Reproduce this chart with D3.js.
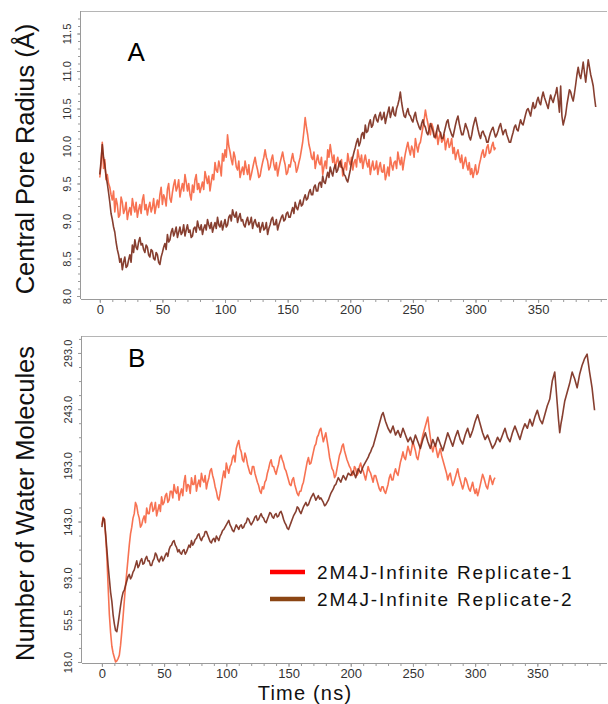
<!DOCTYPE html>
<html>
<head>
<meta charset="utf-8">
<script src="https://cdn.jsdelivr.net/npm/d3@7"></script>
<style>
  body { margin: 0; background: #fff; }
  svg { display: block; }
</style>
</head>
<body>
<svg id="chart" width="608" height="704"></svg>
<script>
// Sampling interval of the trajectories (ns)
const timeStepNs = 1;

// Panel A: central pore radius (Å), one value per ns
const radiusRep1 = [
  9.58,9.75,10.05,9.70,9.82,9.55,9.62,9.50,9.45,9.35,9.28,9.40,9.12,9.30,9.22,9.05,9.08,9.32,9.25,9.10,
  9.15,9.25,9.02,9.12,9.18,9.08,9.30,9.20,9.12,9.25,9.05,9.15,9.22,9.10,9.28,9.35,9.15,9.22,9.08,9.18,
  9.25,9.12,9.18,9.30,9.10,9.20,9.28,9.18,9.35,9.45,9.22,9.35,9.30,9.20,9.42,9.50,9.30,9.25,9.38,9.48,
  9.55,9.40,9.45,9.55,9.32,9.42,9.50,9.40,9.62,9.52,9.40,9.50,9.35,9.28,9.48,9.38,9.55,9.62,9.42,9.50,
  9.38,9.45,9.52,9.42,9.66,9.58,9.50,9.60,9.40,9.52,9.62,9.55,9.78,9.68,9.65,9.80,9.72,9.60,9.90,9.80,
  9.95,9.85,10.15,10.00,9.92,9.82,9.75,9.92,9.85,9.72,9.68,9.80,9.58,9.66,9.72,9.62,9.80,9.70,9.62,9.75,
  9.55,9.62,9.70,9.78,9.85,9.75,9.68,9.58,9.60,9.70,9.78,9.85,9.95,9.85,9.80,9.68,9.72,9.82,9.88,9.75,
  9.68,9.78,9.60,9.70,9.78,9.85,9.92,9.82,9.75,9.62,9.65,9.75,9.72,9.82,9.90,9.80,9.78,9.65,9.70,9.78,
  9.85,9.95,10.05,10.20,10.38,10.25,10.15,10.02,9.95,9.85,9.82,9.92,9.70,9.80,9.88,9.78,9.75,9.85,9.62,9.72,
  9.80,9.70,9.95,9.85,10.02,9.90,9.78,9.88,9.70,9.78,9.85,9.75,9.72,9.82,9.60,9.70,9.78,9.68,9.90,9.80,
  9.75,9.85,9.68,9.78,9.82,9.72,9.95,9.85,9.78,9.88,9.70,9.80,9.88,9.78,9.72,9.82,9.62,9.72,9.80,9.68,
  9.70,9.80,9.62,9.72,9.78,9.66,9.65,9.75,9.55,9.62,9.72,9.60,9.85,9.75,9.68,9.78,9.80,9.70,9.92,9.82,
  9.75,9.85,9.68,9.80,9.90,9.98,10.05,9.95,9.88,10.00,9.95,9.85,10.10,10.00,9.92,10.02,10.05,10.15,10.25,10.35,
  10.48,10.38,10.30,10.20,10.15,10.30,10.25,10.15,10.10,10.20,10.02,10.12,10.18,10.05,10.08,10.15,9.95,10.05,10.10,9.98,
  10.02,10.10,9.90,9.98,9.82,9.90,9.95,9.85,9.78,9.88,9.70,9.78,9.85,9.75,9.68,9.78,9.62,9.70,9.58,9.66,
  9.75,9.62,9.65,9.75,9.82,9.90,9.95,9.85,9.88,9.98,10.02,9.90,9.92,10.00,10.05,9.95,9.98
];
const radiusRep2 = [
  9.62,9.80,10.02,9.85,9.75,9.60,9.50,9.38,9.25,9.10,9.02,8.92,8.85,8.72,8.62,8.55,8.45,8.50,8.35,8.45,
  8.52,8.38,8.40,8.48,8.55,8.45,8.68,8.58,8.75,8.65,8.62,8.72,8.78,8.68,8.70,8.62,8.58,8.68,8.65,8.55,
  8.52,8.62,8.60,8.50,8.48,8.58,8.55,8.45,8.42,8.52,8.58,8.65,8.70,8.62,8.82,8.72,8.75,8.85,8.90,8.80,
  8.85,8.92,8.78,8.85,8.92,8.82,8.85,8.95,8.80,8.88,8.95,8.85,8.88,8.78,8.80,8.90,8.92,8.85,9.00,8.92,
  8.88,8.95,8.82,8.90,8.95,8.88,9.02,8.95,8.90,8.98,8.85,8.92,8.98,8.90,9.05,8.95,8.92,9.00,8.88,8.95,
  9.02,8.92,8.95,9.05,9.08,9.00,9.15,9.08,9.05,9.12,8.98,9.05,9.10,9.00,9.02,8.95,8.92,9.00,9.05,8.95,
  8.98,9.05,8.90,8.98,9.02,8.95,8.92,8.98,8.85,8.92,8.98,8.88,8.90,8.98,8.82,8.90,8.95,9.02,9.05,8.95,
  8.95,9.02,8.88,8.95,9.00,9.05,9.08,9.00,9.02,9.10,9.12,9.05,9.05,9.12,9.18,9.10,9.25,9.18,9.15,9.22,
  9.28,9.20,9.22,9.30,9.35,9.28,9.30,9.38,9.42,9.35,9.35,9.45,9.48,9.40,9.40,9.50,9.52,9.45,9.60,9.52,
  9.50,9.58,9.65,9.58,9.72,9.65,9.60,9.70,9.75,9.65,9.68,9.76,9.80,9.72,9.70,9.62,9.60,9.55,9.52,9.60,
  9.68,9.78,9.85,9.92,9.98,10.05,10.10,10.00,10.05,10.15,10.18,10.10,10.28,10.18,10.20,10.30,10.35,10.25,10.28,10.38,
  10.42,10.35,10.32,10.40,10.45,10.35,10.38,10.45,10.30,10.38,10.45,10.52,10.38,10.45,10.52,10.42,10.40,10.50,10.55,10.62,
  10.72,10.58,10.48,10.40,10.38,10.45,10.50,10.42,10.40,10.35,10.32,10.40,10.45,10.35,10.30,10.25,10.22,10.30,10.35,10.28,
  10.25,10.18,10.15,10.22,10.30,10.25,10.20,10.12,10.12,10.20,10.28,10.20,10.18,10.10,10.10,10.18,10.25,10.32,10.35,10.25,
  10.20,10.15,10.12,10.20,10.28,10.35,10.40,10.30,10.22,10.15,10.15,10.22,10.30,10.25,10.20,10.12,10.08,10.15,10.25,10.32,
  10.38,10.30,10.22,10.15,10.10,10.18,10.20,10.15,10.12,10.05,10.05,10.12,10.18,10.22,10.25,10.18,10.12,10.15,10.20,10.26,
  10.30,10.22,10.15,10.20,10.22,10.15,10.10,10.05,10.05,10.12,10.18,10.25,10.28,10.22,10.20,10.28,10.35,10.30,10.28,10.35,
  10.42,10.48,10.50,10.45,10.40,10.50,10.58,10.50,10.52,10.60,10.65,10.58,10.55,10.65,10.72,10.65,10.60,10.55,10.50,10.60,
  10.68,10.62,10.58,10.65,10.70,10.78,10.62,10.45,10.80,10.40,10.28,10.35,10.42,10.55,10.65,10.75,10.72,10.65,10.60,10.70,
  10.82,10.95,11.05,10.95,10.90,11.00,11.12,10.98,10.85,11.00,11.15,11.05,10.95,10.88,10.80,10.65,10.52
];

// Panel B: number of water molecules in the pore, one value per ns
const waterRep1 = [
  140,147,145,130,112,85,60,44,32,26,22,18,19,21,24,33,45,58,72,86,
  98,110,122,132,138,146,150,160,157,150,146,138,140,145,148,142,155,150,150,158,
  160,152,154,160,148,153,158,152,165,158,160,166,168,160,162,170,170,164,176,170,
  168,174,162,168,172,166,178,184,170,176,175,168,182,176,176,184,170,176,180,174,
  186,180,178,184,172,178,182,188,190,184,180,174,170,164,162,168,175,182,188,182,
  195,190,186,192,194,200,202,196,208,212,215,208,205,198,196,204,200,194,190,186,
  185,192,192,186,182,178,175,170,168,174,172,178,180,186,190,195,198,192,192,188,
  185,190,194,200,202,198,195,190,188,184,180,176,175,180,182,176,172,168,166,170,
  170,175,178,184,190,196,200,194,195,200,205,210,212,218,220,224,226,220,214,218,
  222,215,208,200,195,190,188,182,184,190,196,202,205,210,212,206,202,198,195,192,
  190,184,185,192,190,184,186,192,195,190,188,184,180,186,192,188,186,182,178,184,
  184,180,176,172,170,174,174,170,168,172,176,182,185,180,180,186,190,186,184,190,
  196,200,205,200,198,204,210,206,202,208,214,210,206,200,198,204,210,215,220,224,
  228,232,236,226,218,210,205,210,212,206,200,204,208,202,198,194,190,186,180,184,
  186,180,175,178,182,186,190,184,180,176,172,176,182,180,176,172,170,174,178,172,
  168,172,166,170,175,180,185,182,178,174,172,178,184,180,176,180,182
];
const waterRep2 = [
  138,146,145,132,118,104,92,80,72,60,52,46,45,52,60,68,75,80,82,86,
  90,94,96,92,94,98,100,104,108,102,104,108,110,105,106,110,112,108,108,104,
  104,108,110,115,113,109,107,110,112,108,110,113,115,112,118,121,122,125,126,122,
  120,116,118,115,114,117,118,114,116,119,122,120,126,122,124,127,128,131,132,128,
  126,129,130,134,134,131,128,125,124,127,128,125,130,128,126,130,132,135,136,138,
  140,142,144,140,138,135,134,137,140,138,136,139,140,137,138,141,142,146,145,142,
  140,142,144,147,148,144,145,148,150,147,146,143,142,145,148,151,150,147,146,149,
  150,147,148,151,152,149,145,142,140,137,136,139,142,145,148,150,152,156,155,152,
  150,153,156,158,160,157,158,161,164,166,168,165,162,164,166,163,164,162,160,157,
  158,160,162,165,168,170,172,175,176,179,182,180,178,181,184,182,180,183,186,185,
  184,186,188,185,182,186,190,188,186,189,192,194,196,198,200,203,205,208,210,214,
  218,222,226,230,234,238,240,236,232,229,226,224,222,225,228,224,220,222,224,221,
  218,222,226,223,220,217,214,216,218,215,212,216,220,217,214,211,208,212,216,219,
  222,218,214,211,208,212,216,213,210,214,218,215,212,209,206,210,214,218,222,219,
  216,213,210,214,218,221,224,220,216,214,212,216,220,223,226,222,218,221,224,228,
  232,235,238,234,230,226,222,219,216,218,220,217,214,211,208,210,212,215,218,216,
  214,217,220,223,226,222,218,216,214,218,222,225,228,225,222,219,216,220,224,227,
  230,228,226,230,234,231,228,232,236,239,242,238,234,232,230,234,238,242,246,249,
  252,260,268,272,276,262,248,234,222,230,236,243,250,254,258,262,266,271,276,273,
  270,266,262,268,274,278,282,285,288,290,292,284,276,269,262,252,242
];

// Axis ticks
const timeTicks = [0, 50, 100, 150, 200, 250, 300, 350];
const radiusTicks = [8.0, 8.5, 9.0, 9.5, 10.0, 10.5, 11.0, 11.5];
const waterTicks = [18.0, 55.5, 93.0, 143.0, 193.0, 243.0, 293.0];

// Series labels and colours
const seriesNames = ["2M4J-Infinite Replicate-1", "2M4J-Infinite Replicate-2"];
const lineColors = ["#f6633f", "#7a2a1a"];
const legendColors = ["#ff0000", "#8b4513"];

const svg = d3.select("#chart");
const sansFont = "'Liberation Sans', Arial, Helvetica, sans-serif";
const tickFont = "'Liberation Sans Narrow', 'Arial Narrow', 'Liberation Sans', Arial, sans-serif";
const axisGrey = "#9a9a9a";

function drawPanel(cfg) {
  const x = d3.scaleLinear().domain(cfg.xDomain).range([cfg.left, cfg.right]);
  const y = d3.scaleLinear().domain(cfg.yDomain).range([cfg.bottom, cfg.top]);
  const g = svg.append("g");

  // frame: top border
  g.append("line")
    .attr("x1", cfg.left).attr("x2", cfg.right)
    .attr("y1", cfg.top + 0.5).attr("y2", cfg.top + 0.5)
    .attr("stroke", "#b5b5b5").attr("stroke-width", 1);

  // data traces
  cfg.series.forEach((vals, i) => {
    const pts = vals.map((v, k) => [k * timeStepNs, v]);
    const line = d3.line().x(d => x(d[0])).y(d => y(d[1]));
    g.append("path")
      .datum(pts)
      .attr("d", line)
      .attr("fill", "none")
      .attr("stroke", lineColors[i])
      .attr("stroke-width", 1.6)
      .attr("stroke-opacity", 0.9)
      .attr("stroke-linejoin", "round");
  });

  // x axis: major + minor ticks
  const xMinor = g.append("g").attr("transform", `translate(0,${cfg.bottom})`)
    .call(d3.axisBottom(x).tickValues(d3.range(0, 401, 10)).tickSize(3).tickFormat(""));
  const xMajor = g.append("g").attr("transform", `translate(0,${cfg.bottom})`)
    .call(d3.axisBottom(x).tickValues(timeTicks).tickSize(4).tickPadding(2).tickFormat(d3.format("d")));
  [xMinor, xMajor].forEach(a => {
    a.select(".domain").attr("stroke", axisGrey).attr("d", `M${cfg.left},0.5H${cfg.right}`);
    a.selectAll(".tick line").attr("stroke", axisGrey);
  });
  xMajor.selectAll(".tick text")
    .attr("fill", "#333")
    .attr("font-family", tickFont)
    .attr("font-size", 13)
    .attr("dy", "0.71em");

  // y axis: minor + major ticks, labels rotated
  const yMinor = g.append("g").attr("transform", `translate(${cfg.left},0)`)
    .call(d3.axisLeft(y).tickValues(cfg.yMinor).tickSize(3).tickFormat(""));
  const yMajor = g.append("g").attr("transform", `translate(${cfg.left},0)`)
    .call(d3.axisLeft(y).tickValues(cfg.yTicks).tickSize(4).tickFormat(d3.format(".1f")));
  [yMinor, yMajor].forEach(a => {
    a.select(".domain").attr("stroke", axisGrey).attr("d", `M-0.5,${cfg.bottom}V${cfg.top}`);
    a.selectAll(".tick line").attr("stroke", axisGrey);
  });
  yMajor.selectAll(".tick text")
    .attr("x", null).attr("dy", null)
    .attr("fill", "#333")
    .attr("font-family", sansFont)
    .attr("font-size", 11)
    .attr("text-anchor", "middle")
    .attr("transform", "translate(-10,0) rotate(-90)");

  // panel letter
  g.append("text")
    .attr("x", x(cfg.letterAt[0])).attr("y", y(cfg.letterAt[1]))
    .attr("font-family", sansFont).attr("font-size", 26)
    .attr("text-anchor", "middle").attr("fill", "#000")
    .text(cfg.letter);

  // y-axis title
  g.append("text")
    .attr("transform", `translate(34,${(cfg.top + cfg.bottom) / 2 + 4}) rotate(-90)`)
    .attr("font-family", sansFont).attr("font-size", 25.5)
    .attr("text-anchor", "middle").attr("fill", "#111")
    .text(cfg.title);

  return { x, y, g };
}

drawPanel({
  left: 81, right: 607, top: 11, bottom: 299,
  xDomain: [-15, 405], yDomain: [7.96, 11.8],
  yTicks: radiusTicks,
  yMinor: d3.range(80, 118).map(d => d / 10),
  series: [radiusRep1, radiusRep2],
  letter: "A", letterAt: [29, 11.14],
  title: "Central Pore Radius (\u00C5)"
});

drawPanel({
  left: 82, right: 607, top: 336, bottom: 663,
  xDomain: [-16, 406], yDomain: [17.1, 308.1],
  yTicks: waterTicks,
  yMinor: d3.range(0, 24).map(k => 18 + 12.5 * k),
  series: [waterRep1, waterRep2],
  letter: "B", letterAt: [28, 280.5],
  title: "Number of Water Molecules"
});

// x-axis title
svg.append("text")
  .attr("x", 305).attr("y", 700)
  .attr("font-family", sansFont).attr("font-size", 20)
  .attr("letter-spacing", 1.2)
  .attr("text-anchor", "middle").attr("fill", "#111")
  .text("Time (ns)");

// legend
const legend = svg.append("g");
seriesNames.forEach((name, i) => {
  const ly = 572 + i * 27;
  legend.append("line")
    .attr("x1", 270).attr("x2", 305)
    .attr("y1", ly).attr("y2", ly)
    .attr("stroke", legendColors[i]).attr("stroke-width", 4.5);
  legend.append("text")
    .attr("x", 317).attr("y", ly + 6.5)
    .attr("font-family", sansFont).attr("font-size", 19)
    .attr("letter-spacing", 1.85)
    .attr("fill", "#111")
    .text(name);
});
</script>
</body>
</html>
